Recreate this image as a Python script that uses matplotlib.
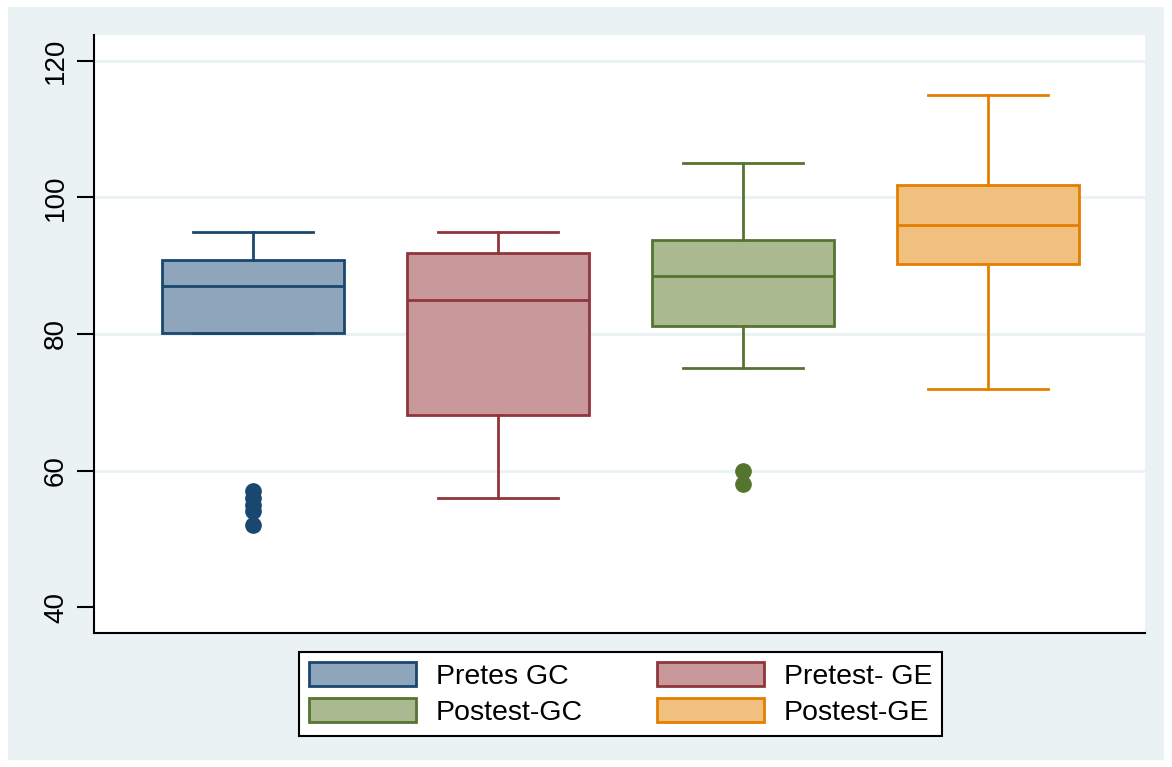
import matplotlib.pyplot as plt
from matplotlib.patches import Rectangle, Patch

plt.rcParams["font.family"] = ["Liberation Sans", "DejaVu Sans"]

# données
labels = ["Pretes GC", "Pretest- GE", "Postest-GC", "Postest-GE"]
q1 = [80.2, 68.1, 81.2, 90.3]
med = [87, 85, 88.5, 96]
q3 = [90.8, 91.8, 93.8, 101.8]
whislo = [80.2, 56, 75, 72]
whishi = [95, 95, 105, 115]
fliers = [[57, 56, 55, 54, 52], [], [60, 58], []]

edge_colors = ["#1a476f", "#90353b", "#55752f", "#e37e00"]
fill_colors = ["#8fa5bb", "#c8989b", "#aab98f", "#f1c07f"]

BG = "#eaf2f3"

fig = plt.figure(figsize=(11.72, 7.67), dpi=100, facecolor="white")
fig.patches.append(Rectangle((8 / 1172, 7 / 767), 1 - 16 / 1172, 1 - 14 / 767,
                             transform=fig.transFigure, facecolor=BG,
                             edgecolor="none", zorder=-10))

ax = fig.add_axes([94 / 1172, 1 - 633 / 767, (1145 - 94) / 1172, (633 - 35) / 767])
ax.set_facecolor("white")

stats = []
for i in range(len(labels)):
    stats.append(dict(q1=q1[i], med=med[i], q3=q3[i], whislo=whislo[i],
                      whishi=whishi[i], fliers=fliers[i], label=labels[i]))

positions = [1, 2, 3, 4]
for i, st in enumerate(stats):
    c = edge_colors[i]
    ax.bxp([st], positions=[positions[i]], widths=0.743, capwidths=0.49,
           patch_artist=True, showfliers=True,
           boxprops=dict(facecolor=fill_colors[i], edgecolor=c, linewidth=2),
           medianprops=dict(color=c, linewidth=2),
           whiskerprops=dict(color=c, linewidth=2),
           capprops=dict(color=c, linewidth=2),
           flierprops=dict(marker="o", markerfacecolor=c, markeredgecolor=c,
                           markersize=11))

ax.set_xlim(0.351, 4.641)
ax.set_ylim(36.2, 123.8)
ax.set_yticks([40, 60, 80, 100, 120])
ax.set_xticks([])
# pas de ligne de grille à 40
for y in [60, 80, 100, 120]:
    ax.axhline(y, color=BG, linewidth=2, zorder=0.5)
for s in ["top", "right"]:
    ax.spines[s].set_visible(False)
for s in ["left", "bottom"]:
    ax.spines[s].set_linewidth(1.5)
ax.tick_params(axis="y", length=12, width=1.5, labelsize=20, pad=6)
for t in ax.get_yticklabels():
    t.set_rotation(90)
    t.set_va("center")

handles = [Patch(facecolor=fill_colors[i], edgecolor=edge_colors[i], linewidth=2,
                 label=labels[i]) for i in range(4)]
# ordre en colonnes : GC/GE
order = [0, 2, 1, 3]
leg = fig.legend([handles[k] for k in order], [labels[k] for k in order],
                 ncol=2, loc="center",
                 bbox_to_anchor=(299 / 1172, 1 - 737 / 767, (942 - 299) / 1172, 86 / 767),
                 mode="expand", borderaxespad=0, fontsize=20.5, handlelength=3.75,
                 handleheight=0.9, handletextpad=0.7, frameon=True, fancybox=False,
                 borderpad=0.35, labelspacing=0.3, framealpha=1, facecolor="white")
leg.get_frame().set_edgecolor("black")
leg.get_frame().set_linewidth(1.5)

fig.savefig("out.png", dpi=100, facecolor=fig.get_facecolor())
